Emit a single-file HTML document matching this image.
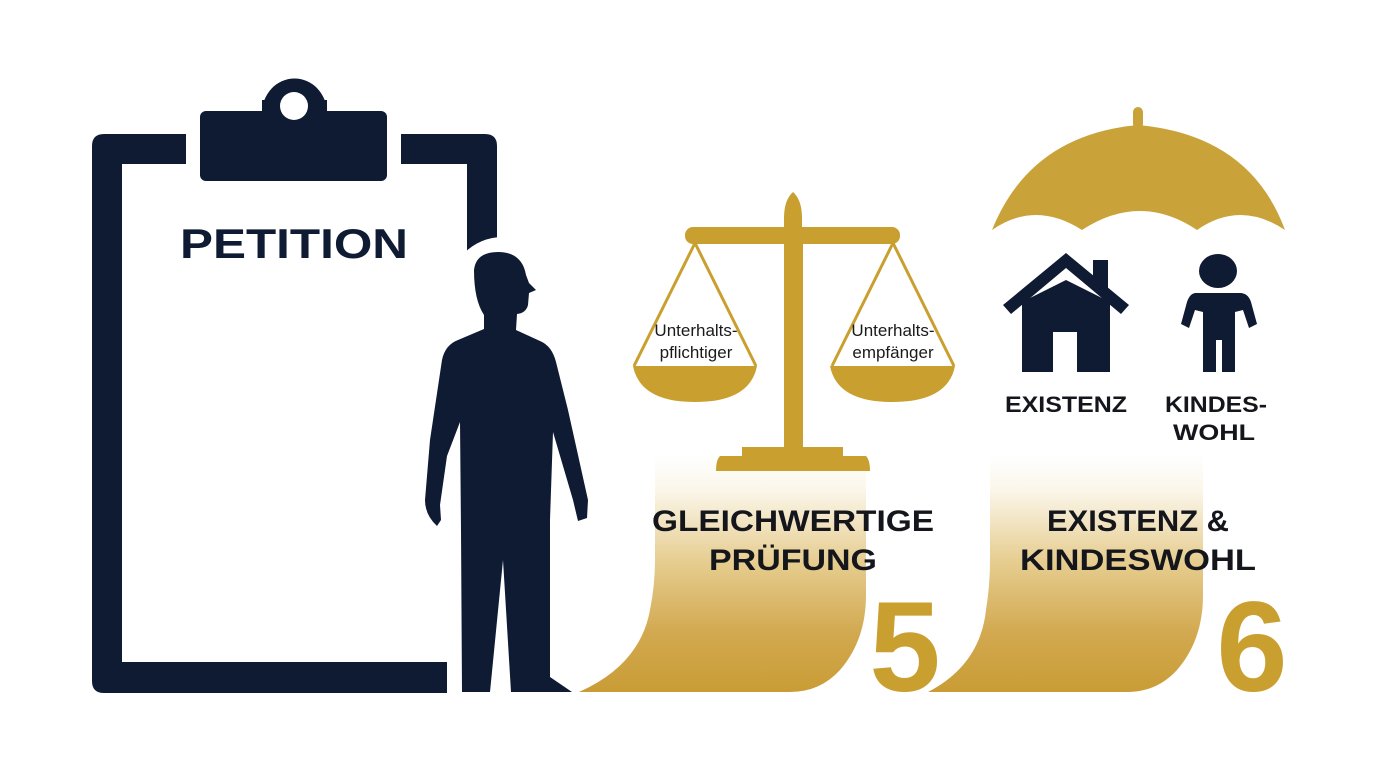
<!DOCTYPE html>
<html><head><meta charset="utf-8"><style>html,body{margin:0;padding:0;background:#fff}svg{display:block}</style></head>
<body>
<svg width="1377" height="768" viewBox="0 0 1377 768" xmlns="http://www.w3.org/2000/svg">
<defs>
<linearGradient id="g" x1="0" y1="0" x2="0" y2="1">
<stop offset="0" stop-color="#ffffff" stop-opacity="1"/>
<stop offset="0.15" stop-color="#fbf6ea"/>
<stop offset="0.45" stop-color="#e6cd90"/>
<stop offset="0.75" stop-color="#d2a950"/>
<stop offset="1" stop-color="#c99c35"/>
</linearGradient>
</defs>
<rect width="1377" height="768" fill="#fff"/>
<g fill="#0f1a33">
<path d="M186 134 H104 Q92 134 92 146 V681 Q92 693 104 693 H447 V662 H122 V164 H186 Z"/>
<path d="M401 134 H485 Q497 134 497 146 V251 H467 V164 H401 Z"/>
<rect x="200" y="111" width="187" height="70" rx="6"/>
<path d="M262 113 A32 34 0 0 1 327 113 Z"/>
<rect x="262" y="100" width="65" height="14"/>
</g>
<circle cx="294" cy="106" r="14" fill="#fff"/>
<circle cx="503" cy="292" r="55" fill="#fff"/>
<text x="294" y="258" font-family="Liberation Sans, sans-serif" font-weight="bold" font-size="42" fill="#0f1a33" text-anchor="middle" textLength="228" lengthAdjust="spacingAndGlyphs">PETITION</text>
<g fill="#0f1a33">
<path d="M474 270 Q476 252 498 252 Q522 252 526 275 L529 283 L536 290 L529 293 L528 305 Q526 313 517 314 L516 330 L540 341 Q552 346 556 362 L568 410 L588 500 L587 518 L578 521 L573 500 L553 432 L550 520 L550 677 L572 692 L511 692 L503 560 L490 692 L462 692 L461 530 L460 422 L447 456 L440 505 L441 520 L437 526 Q425 515 425 500 L430 440 L442 360 Q445 345 458 340 L484 329 L484 315 Q474 300 474 270 Z"/>
</g>
<path d="M655 455 H866 V595 Q866 640 840 670 Q820 692 790 692 H579 Q640 665 650 610 Q655 585 655 560 Z" fill="url(#g)"/>
<path d="M990 455 H1203 V595 Q1203 640 1177 670 Q1157 692 1127 692 H928 Q980 665 986 610 Q990 585 990 560 Z" fill="url(#g)"/>
<text x="905" y="691" font-family="Liberation Sans, sans-serif" font-weight="bold" font-size="128" fill="#c9a030" text-anchor="middle">5</text>
<text x="1252" y="691" font-family="Liberation Sans, sans-serif" font-weight="bold" font-size="128" fill="#c9a030" text-anchor="middle">6</text>
<g fill="#c9a030">
<path d="M784 243 V218 Q784 200 793 192 Q802 200 802 218 V243 Z"/>
<rect x="685" y="227" width="215" height="17" rx="8"/>
<rect x="784" y="240" width="19" height="212"/>
<path d="M742 456 V447 H843 V456 H866 Q870 460 870 471 H716 Q716 460 720 456 Z"/>
<path d="M633 366 H757 Q750 402 695 402 Q640 402 633 366 Z"/>
<path d="M830 366 H955 Q948 402 892 402 Q837 402 830 366 Z"/>
</g>
<g stroke="#c9a030" stroke-width="3" fill="none">
<path d="M695 243 L634 366 M695 243 L756 366"/>
<path d="M893 243 L832 366 M893 243 L954 366"/>
</g>
<g font-family="Liberation Sans, sans-serif" font-size="17" fill="#1a1a1a" text-anchor="middle">
<text x="696" y="336">Unterhalts-</text>
<text x="696" y="358">pflichtiger</text>
<text x="893" y="336">Unterhalts-</text>
<text x="893" y="358">empfänger</text>
</g>
<g fill="#c9a23a">
<rect x="1133" y="107" width="10" height="22" rx="5"/>
<path d="M992 230 Q1030 135 1138 125 Q1250 135 1285 230 Q1240 200 1197 230 Q1140 192 1082 230 Q1035 200 992 230 Z"/>
</g>
<g fill="#0f1a33">
<path d="M1003 305 L1066 253 L1129 305 L1121 314 L1066 268 L1011 314 Z"/>
<rect x="1093" y="260" width="15" height="30"/>
<path d="M1022 302 L1066 280 L1110 302 V372 H1077 V332 H1053 V372 H1022 Z"/>
<ellipse cx="1218" cy="271" rx="19" ry="17"/>
<path d="M1196 293 H1240 Q1248 293 1251 302 L1257 324 L1249 328 L1243 310 L1235 312 V372 H1222 V340 H1216 V372 H1203 V312 L1195 310 L1189 328 L1181 324 L1187 302 Q1190 293 1196 293 Z"/>
</g>
<g font-family="Liberation Sans, sans-serif" font-weight="bold" fill="#14161c" text-anchor="middle">
<text x="1066" y="412" font-size="22" textLength="122" lengthAdjust="spacingAndGlyphs">EXISTENZ</text>
<text x="1216" y="412" font-size="22" textLength="102" lengthAdjust="spacingAndGlyphs">KINDES-</text>
<text x="1214" y="440" font-size="22" textLength="82" lengthAdjust="spacingAndGlyphs">WOHL</text>
<text x="793" y="531" font-size="30" textLength="282" lengthAdjust="spacingAndGlyphs">GLEICHWERTIGE</text>
<text x="793" y="570" font-size="30" textLength="168" lengthAdjust="spacingAndGlyphs">PRÜFUNG</text>
<text x="1138" y="531" font-size="30" textLength="182" lengthAdjust="spacingAndGlyphs">EXISTENZ &amp;</text>
<text x="1138" y="570" font-size="30" textLength="236" lengthAdjust="spacingAndGlyphs">KINDESWOHL</text>
</g>
</svg>
</body></html>
